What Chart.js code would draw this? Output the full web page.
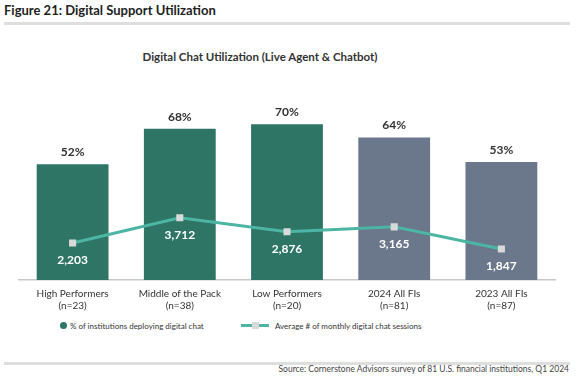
<!DOCTYPE html>
<html><head><meta charset="utf-8">
<script src="https://cdn.jsdelivr.net/npm/chart.js@4"></script>
<style>
html,body{margin:0;padding:0;background:#fff;}
body{width:578px;height:388px;position:relative;overflow:hidden;font-family:Lato,"Open Sans",sans-serif;color:#2b2b2b;}
#fig{position:absolute;left:4px;top:2px;font-size:13px;font-weight:bold;color:#222;}
.rule{position:absolute;left:4px;width:566px;height:3px;background:#dedede;}
#ctitle{position:absolute;left:0;width:520px;top:50px;text-align:center;font-size:11.5px;font-weight:bold;color:#333;}
#wrap{position:absolute;left:0;top:0;width:578px;height:320px;}
.leg{position:absolute;top:321px;font-size:8px;color:#333;white-space:nowrap;line-height:10px;}
.dot{position:absolute;width:7px;height:7px;border-radius:50%;background:#2e7566;}
.ln{position:absolute;height:3px;background:#4db5a3;}
.sq{position:absolute;width:7px;height:7px;background:#d9d9d9;}
#src{position:absolute;right:9px;top:364px;font-size:8.5px;color:#444;}
</style></head>
<body>
<div id="fig">Figure 21: Digital Support Utilization</div>
<div class="rule" style="top:22px"></div>
<div id="ctitle">Digital Chat Utilization (Live Agent &amp; Chatbot)</div>
<div id="wrap"><canvas id="c" width="578" height="320"></canvas></div>
<div class="dot" style="left:60px;top:322px"></div>
<div class="leg" style="left:70px">% of institutions deploying digital chat</div>
<div class="ln" style="left:241px;top:324px;width:28px"></div>
<div class="sq" style="left:252px;top:322px"></div>
<div class="leg" style="left:275px">Average # of monthly digital chat sessions</div>
<div class="rule" style="top:362px"></div>
<div id="src">Source: Cornerstone Advisors survey of 81 U.S. financial institutions, Q1 2024</div>
<script>
const categories = [["High Performers","(n=23)"],["Middle of the Pack","(n=38)"],["Low Performers","(n=20)"],["2024 All FIs","(n=81)"],["2023 All FIs","(n=87)"]];
const pctDeploying = [52, 68, 70, 64, 53];
const avgSessions = [2203, 3712, 2876, 3165, 1847];
const barColors = ["#2e7566","#2e7566","#2e7566","#6b778b","#6b778b"];

const labelPlugin = {
  id: 'valueLabels',
  afterDatasetsDraw(chart) {
    const ctx = chart.ctx;
    ctx.save();
    ctx.textAlign = 'center';
    ctx.textBaseline = 'middle';
    const barMeta = chart.getDatasetMeta(1);
    ctx.font = 'bold 12px Lato';
    ctx.fillStyle = '#333';
    barMeta.data.forEach((el, i) => {
      ctx.fillText(pctDeploying[i] + '%', el.x, el.y - 12);
    });
    const lineMeta = chart.getDatasetMeta(0);
    ctx.fillStyle = '#ffffff';
    lineMeta.data.forEach((el, i) => {
      ctx.fillText(avgSessions[i].toLocaleString('en-US'), el.x, el.y + 17);
    });
    ctx.restore();
  }
};

new Chart(document.getElementById('c'), {
  data: {
    labels: categories,
    datasets: [
      {
        type: 'line', order: 0, yAxisID: 'y2',
        label: 'Average # of monthly digital chat sessions',
        data: avgSessions,
        borderColor: '#4db5a3', borderWidth: 3,
        pointStyle: 'rect', pointRadius: 5, pointBorderWidth: 0,
        pointBackgroundColor: '#d9d9d9', pointBorderColor: '#d9d9d9',
        tension: 0
      },
      {
        type: 'bar', order: 1, yAxisID: 'y',
        label: '% of institutions deploying digital chat',
        data: pctDeploying,
        backgroundColor: barColors,
        categoryPercentage: 1, barPercentage: 0.67
      }
    ]
  },
  options: {
    responsive: false, animation: false,
    layout: { padding: { left: 19, right: 23, top: 57.5, bottom: 0 } },
    plugins: { legend: { display: false }, tooltip: { enabled: false }, title: { display: false } },
    scales: {
      x: {
        grid: { display: false, drawTicks: false },
        border: { display: true, color: '#c8c8c8', width: 1.5 },
        ticks: { color: '#333', font: { family: 'Lato', size: 10, lineHeight: 1.2 }, padding: 8, maxRotation: 0, autoSkip: false }
      },
      y: { display: false, min: 0, max: 100 },
      y2: { display: false, min: 0, max: 13250 }
    }
  },
  plugins: [labelPlugin]
});
</script>
</body></html>
